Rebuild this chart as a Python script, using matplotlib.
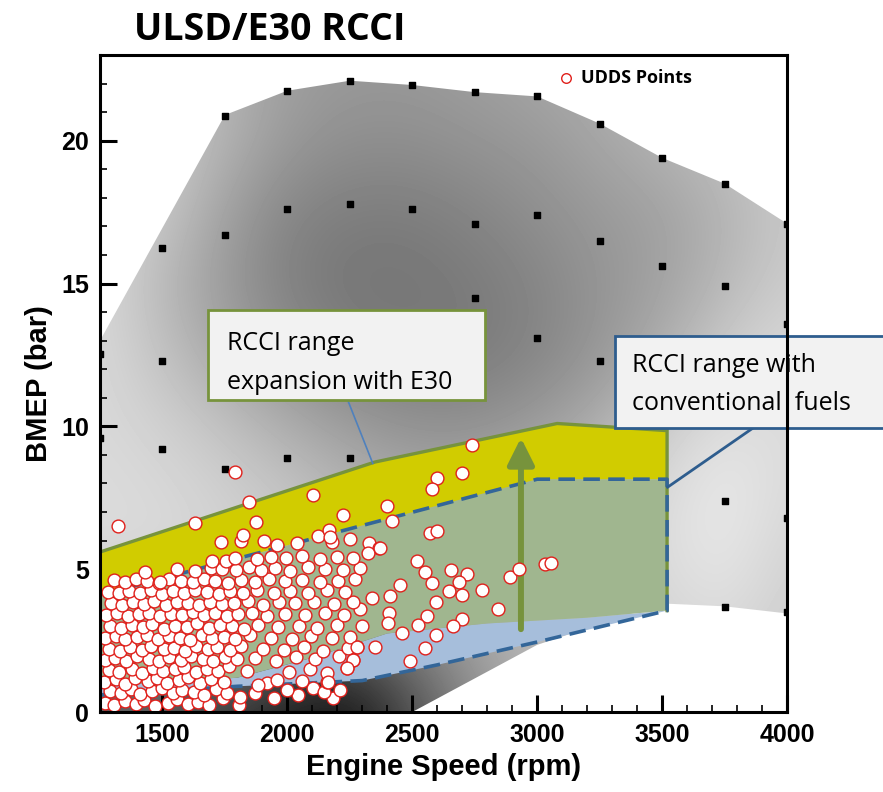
import numpy as np
import matplotlib
matplotlib.use("Agg")
import matplotlib.pyplot as plt
from matplotlib.patches import Polygon, Rectangle
from matplotlib.ticker import MultipleLocator

plt.rcParams["font.family"] = ["Liberation Sans", "DejaVu Sans"]
plt.rcParams["font.weight"] = "bold"

# operating map envelope (outer boundary of the shaded map)
env_speed = [1250, 1250, 1750, 2000, 2250, 2500, 2750, 3000, 3250, 3500, 3750, 4000,
             4000, 3750, 3500, 3000, 2500]
env_bmep = [0.0, 13.0, 20.9, 21.75, 22.1, 21.95, 21.7, 21.55, 20.6, 19.4, 18.5, 17.1,
            3.45, 3.7, 3.8, 2.35, 0.0]

# gray level of the map background, read on a coarse grid (1 = white)
gray_speed = [1250, 1500, 1750, 2000, 2250, 2500, 2750, 3000, 3250, 3500, 3750, 4000]
gray_bmep = [0.0, 2.5, 5.0, 7.5, 10.0, 12.5, 15.0, 17.5, 20.0, 22.5]
gray_level = [
    [0.35, 0.30, 0.22, 0.10, 0.05, 0.30, 0.55, 0.70, 0.80, 0.80, 0.80, 0.80],
    [0.62, 0.60, 0.55, 0.45, 0.38, 0.50, 0.62, 0.72, 0.78, 0.82, 0.85, 0.80],
    [0.85, 0.85, 0.82, 0.78, 0.72, 0.70, 0.72, 0.76, 0.80, 0.86, 0.90, 0.82],
    [0.86, 0.85, 0.82, 0.78, 0.72, 0.68, 0.68, 0.72, 0.78, 0.86, 0.92, 0.85],
    [0.85, 0.82, 0.76, 0.68, 0.61, 0.57, 0.57, 0.61, 0.68, 0.80, 0.88, 0.86],
    [0.85, 0.76, 0.65, 0.56, 0.50, 0.48, 0.48, 0.52, 0.59, 0.68, 0.80, 0.85],
    [0.85, 0.72, 0.60, 0.50, 0.46, 0.46, 0.48, 0.52, 0.58, 0.63, 0.72, 0.80],
    [0.85, 0.78, 0.63, 0.52, 0.49, 0.49, 0.52, 0.56, 0.60, 0.63, 0.70, 0.78],
    [0.85, 0.80, 0.70, 0.60, 0.56, 0.56, 0.58, 0.60, 0.65, 0.70, 0.75, 0.80],
    [0.85, 0.80, 0.70, 0.62, 0.60, 0.60, 0.62, 0.65, 0.68, 0.72, 0.78, 0.80],
]

# measured operating points (black squares)
dot_speed = [1750, 2000, 2250, 2500, 2750, 3000, 3250, 3500, 3750, 4000,
             1500, 1750, 2000, 2250, 2500, 2750, 3000, 3250, 3500, 3750,
             1250, 1500, 2750, 3000, 3250, 4000,
             1250, 1500, 1750, 2000, 2250, 3750, 4000, 3750, 4000]
dot_bmep = [20.87, 21.75, 22.1, 21.95, 21.7, 21.57, 20.6, 19.4, 18.5, 17.1,
            16.26, 16.7, 17.6, 17.8, 17.6, 17.1, 17.4, 16.5, 15.6, 14.9,
            12.55, 12.3, 14.5, 13.1, 12.3, 13.6,
            9.6, 9.2, 8.5, 8.9, 8.9, 7.4, 6.8, 3.67, 3.5]

# RCCI range boundaries
e30_top_speed = [1250, 2350, 3080, 3520]
e30_top_bmep = [5.6, 8.75, 10.1, 9.85]
conv_top_speed = [1250, 3000, 3520]
conv_top_bmep = [4.1, 8.15, 8.15]
conv_bottom_speed = [1250, 1800, 2300, 2600, 3000, 3520]
conv_bottom_bmep = [0.6, 0.9, 1.1, 1.65, 2.45, 3.55]
green_bottom_speed = [1250, 1800, 2100, 2400, 2800, 3200, 3520]
green_bottom_bmep = [0.9, 1.2, 1.9, 2.75, 3.1, 3.3, 3.55]
arrow_speed = 2935
arrow_bmep = (2.9, 9.6)

# UDDS cycle points
udds_speed = [
    1272, 1308, 1349, 1395, 1428, 1470, 1522, 1558, 1601, 1643, 1688, 1741, 1806, 1948, 2043, 2183,
    1290, 1333, 1375, 1412, 1458, 1497, 1543, 1580, 1628, 1665, 1714, 1760, 1810, 1870, 1918, 1998, 2102, 2148, 2210,
    1268, 1315, 1352, 1390, 1442, 1480, 1520, 1567, 1603, 1652, 1693, 1745, 1882, 1958, 2060, 2160, 2238,
    1285, 1328, 1378, 1420, 1462, 1502, 1550, 1588, 1635, 1678, 1722, 1768, 1838, 2005, 2090, 2158, 2262,
    1270, 1310, 1356, 1398, 1445, 1487, 1526, 1574, 1614, 1662, 1703, 1752, 1798, 1872, 1955, 2035, 2112, 2205, 2278,
    1288, 1332, 1370, 1418, 1455, 1505, 1545, 1592, 1633, 1682, 1720, 1770, 1815, 1902, 1987, 2068, 2142, 2242,
    1272, 1315, 1350, 1398, 1438, 1484, 1527, 1570, 1610, 1658, 1698, 1747, 1790, 1852, 1933, 2017, 2095, 2178, 2252,
    1292, 1335, 1377, 1422, 1460, 1508, 1552, 1597, 1638, 1688, 1732, 1778, 1828, 1882, 1962, 2047, 2118, 2198,
    1276, 1320, 1362, 1405, 1447, 1492, 1535, 1578, 1622, 1668, 1712, 1757, 1802, 1858, 1918, 1992, 2072, 2150, 2228, 2292,
    1295, 1340, 1382, 1428, 1468, 1515, 1557, 1602, 1648, 1692, 1740, 1786, 1842, 1902, 1968, 2032, 2108, 2185, 2262,
    1282, 1325, 1368, 1412, 1455, 1498, 1542, 1588, 1632, 1678, 1725, 1772, 1822, 1880, 1945, 2012, 2082, 2160, 2232,
    1305, 1350, 1395, 1438, 1485, 1528, 1575, 1622, 1665, 1712, 1762, 1815, 1872, 1928, 1992, 2058, 2132, 2202, 2272,
    1430, 1490, 1560, 1632, 1695, 1740, 1795, 1845, 1895, 1952, 2012, 2082, 2152, 2222, 2290,
    1698, 1754, 1790, 1880, 1935, 1995, 2060, 2130, 2198, 2262,
    1734, 1814, 1906, 1960, 2040, 2122, 2180, 2250, 1822,
    1322, 1630, 1874, 1846, 2102, 2222, 2398, 1790, 2166, 2170, 2326, 2366, 2322,
    2738, 2598, 2698, 2578, 2418, 2570, 2598, 2370, 2550, 2654, 2718, 2578, 2686, 2450,
    2410, 2646, 2698, 2778, 2594, 2890, 2926, 3030, 3054, 2842, 2406, 2558, 2698, 2522,
    2662, 2458, 2594, 2402, 2550, 2490, 2350, 2278, 2262, 2238, 2162, 2300, 2340, 2520,
]
udds_bmep = [
    0.30, 0.25, 0.38, 0.28, 0.42, 0.22, 0.33, 0.45, 0.27, 0.36, 0.24, 0.50, 0.24, 0.49, 0.59, 0.49,
    0.72, 0.65, 0.80, 0.62, 0.75, 0.85, 0.68, 0.78, 0.70, 0.60, 0.82, 0.66, 0.52, 0.66, 1.00, 0.77, 0.84, 0.70, 0.77,
    1.05, 1.15, 0.98, 1.20, 1.08, 1.18, 1.02, 1.12, 1.22, 1.00, 1.15, 1.05, 0.94, 1.12, 1.10, 1.05, 1.54,
    1.48, 1.40, 1.52, 1.38, 1.55, 1.42, 1.50, 1.58, 1.40, 1.52, 1.45, 1.60, 1.42, 1.40, 1.50, 1.36, 1.82,
    1.82, 1.90, 1.78, 1.95, 1.85, 1.80, 1.92, 1.83, 1.97, 1.86, 1.80, 1.93, 1.85, 1.88, 1.78, 1.92, 1.86, 1.95, 2.27,
    2.22, 2.15, 2.28, 2.18, 2.30, 2.20, 2.25, 2.14, 2.32, 2.20, 2.27, 2.16, 2.30, 2.22, 2.18, 2.28, 2.15, 2.25,
    2.58, 2.65, 2.55, 2.62, 2.68, 2.55, 2.66, 2.60, 2.52, 2.70, 2.58, 2.64, 2.56, 2.68, 2.60, 2.55, 2.66, 2.58, 2.62,
    3.00, 2.95, 3.05, 2.98, 3.08, 2.92, 3.02, 2.96, 3.10, 2.95, 3.04, 3.00, 2.92, 3.06, 2.98, 3.02, 2.94, 3.05,
    3.38, 3.45, 3.35, 3.42, 3.48, 3.36, 3.44, 3.40, 3.50, 3.38, 3.45, 3.35, 3.42, 3.48, 3.36, 3.44, 3.40, 3.46, 3.38, 3.62,
    3.80, 3.75, 3.85, 3.78, 3.88, 3.76, 3.84, 3.80, 3.74, 3.86, 3.78, 3.82, 3.88, 3.76, 3.84, 3.80, 3.86, 3.78, 3.84,
    4.20, 4.15, 4.25, 4.18, 4.28, 4.12, 4.22, 4.16, 4.26, 4.20, 4.14, 4.24, 4.18, 4.28, 4.16, 4.22, 4.18, 4.26, 4.20,
    4.62, 4.55, 4.65, 4.58, 4.52, 4.66, 4.60, 4.54, 4.64, 4.58, 4.52, 4.62, 4.56, 4.66, 4.58, 4.62, 4.54, 4.60, 4.64,
    4.90, 4.55, 5.02, 4.95, 5.05, 5.00, 4.96, 5.08, 4.98, 5.04, 4.94, 5.06, 5.00, 4.96, 5.04,
    5.30, 5.30, 5.40, 5.36, 5.44, 5.38, 5.46, 5.34, 5.42, 5.38,
    5.95, 5.97, 6.00, 5.85, 5.90, 6.15, 5.95, 6.05, 6.20,
    6.50, 6.60, 6.64, 7.35, 7.60, 6.90, 7.20, 8.40, 6.36, 6.12, 5.90, 5.73, 5.56,
    9.34, 8.20, 8.35, 7.80, 6.68, 6.27, 6.33, 5.73, 4.90, 4.96, 4.82, 4.50, 4.54, 4.44,
    4.06, 4.23, 4.09, 4.27, 3.85, 4.72, 5.00, 5.17, 5.20, 3.60, 3.46, 3.36, 3.25, 3.04,
    3.00, 2.76, 2.69, 3.10, 2.24, 1.78, 2.27, 2.27, 1.82, 1.54, 1.05, 3.00, 4.00, 5.30,
]

GREEN = "#77933c"
DASH_BLUE = "#336699"
BOX_BLUE = "#2e5d8e"
BOX_FONT = dict(fontsize=18, family="Open Sans", weight="normal", va="baseline", zorder=9)

fig = plt.figure(figsize=(8.83, 7.92), dpi=100)
ax = fig.add_axes([100 / 883, 1 - 712 / 792, 687 / 883, 657 / 792])

# shaded map clipped to the envelope
env = Polygon(np.column_stack([env_speed, env_bmep]), closed=True,
              facecolor="none", edgecolor="none")
ax.add_patch(env)
im = ax.imshow(np.array(gray_level), origin="lower", cmap="gray", vmin=0, vmax=1,
               interpolation="bicubic", aspect="auto", zorder=0,
               extent=[gray_speed[0] - 125, gray_speed[-1] + 125,
                       gray_bmep[0] - 1.25, gray_bmep[-1] + 1.25])
im.set_clip_path(env)
ax.scatter(dot_speed, dot_bmep, marker="s", s=15, color="black", zorder=1)

# RCCI ranges
blue_poly = list(zip(green_bottom_speed, green_bottom_bmep)) + \
    list(zip(conv_bottom_speed[::-1], conv_bottom_bmep[::-1]))
ax.add_patch(Polygon(blue_poly, closed=True, facecolor="#a6bedb", edgecolor="none", zorder=2))
green_poly = list(zip(conv_top_speed, conv_top_bmep)) + \
    list(zip(green_bottom_speed[::-1], green_bottom_bmep[::-1]))
ax.add_patch(Polygon(green_poly, closed=True, facecolor="#a0b68f", edgecolor="none", zorder=2))
yellow_poly = list(zip(e30_top_speed, e30_top_bmep)) + \
    list(zip(conv_top_speed[::-1], conv_top_bmep[::-1]))
ax.add_patch(Polygon(yellow_poly, closed=True, facecolor="#d1cc00", edgecolor="none", zorder=2))

ax.plot(e30_top_speed + [e30_top_speed[-1]], e30_top_bmep + [green_bottom_bmep[-1]],
        color=GREEN, lw=2.4, zorder=3, solid_joinstyle="miter")
ax.plot(conv_top_speed + conv_bottom_speed[::-1], conv_top_bmep + conv_bottom_bmep[::-1],
        color=DASH_BLUE, lw=2.6, ls=(0, (4.6, 2.3)), zorder=4)

ax.annotate("", xy=(arrow_speed, arrow_bmep[1]), xytext=(arrow_speed, arrow_bmep[0]),
            arrowprops=dict(arrowstyle="-|>,head_width=0.4,head_length=0.8",
                            mutation_scale=20, lw=4.3, color=GREEN,
                            shrinkA=0, shrinkB=0), zorder=5)

sc = ax.scatter(udds_speed, udds_bmep, s=85, facecolor="white", edgecolor="#e0201b",
                linewidth=1.0, zorder=6)

# callouts
ax.plot([2242, 2342], [10.91, 8.7], color="#4f81bd", lw=1.2, zorder=7)
ax.add_patch(Rectangle((1682, 10.91), 1108, 3.15, facecolor="#f2f2f2",
                       edgecolor=GREEN, lw=2, zorder=8))
ax.text(1758, 12.69, "RCCI range", **BOX_FONT)
ax.text(1758, 11.29, "expansion with E30", **BOX_FONT)

ax.plot([3862, 3522], [9.93, 7.87], color=BOX_BLUE, lw=2, zorder=7, clip_on=False)
ax.add_patch(Rectangle((3310, 9.93), 1200, 3.25, facecolor="#f2f2f2",
                       edgecolor=BOX_BLUE, lw=2, zorder=8, clip_on=False))
ax.text(3378, 11.89, "RCCI range with", clip_on=False, **BOX_FONT)
ax.text(3378, 10.56, "conventional  fuels", clip_on=False, **BOX_FONT)

ax.legend(handles=[sc], labels=["UDDS Points"], loc="center left",
          bbox_to_anchor=(0.668, 0.965), frameon=False, borderaxespad=0, borderpad=0,
          handlelength=0.8, handletextpad=0.45, markerscale=0.75,
          prop=dict(family="Open Sans", weight="bold", size=13))

ax.set_xlim(1250, 4000)
ax.set_ylim(0, 23)
ax.xaxis.set_major_locator(MultipleLocator(500))
ax.xaxis.set_minor_locator(MultipleLocator(100))
ax.yaxis.set_major_locator(MultipleLocator(5))
ax.yaxis.set_minor_locator(MultipleLocator(1))
ax.tick_params(which="both", direction="in", top=False, right=False, labelsize=18)
ax.tick_params(which="major", length=12, width=2.2, pad=8)
ax.tick_params(which="minor", length=5, width=1.2)
for sp in ax.spines.values():
    sp.set_linewidth(2.2)
    sp.set_zorder(10)

ax.set_xlabel("Engine Speed (rpm)", fontsize=21, fontweight="bold", labelpad=4)
ax.set_ylabel("BMEP (bar)", fontsize=21, fontweight="bold", labelpad=6)

fig.text(270 / 883, 1 - 30 / 792, "ULSD/E30 RCCI", ha="center", va="center",
         fontsize=27, fontweight="bold", family="Open Sans")

fig.savefig("out.png", dpi=100)
